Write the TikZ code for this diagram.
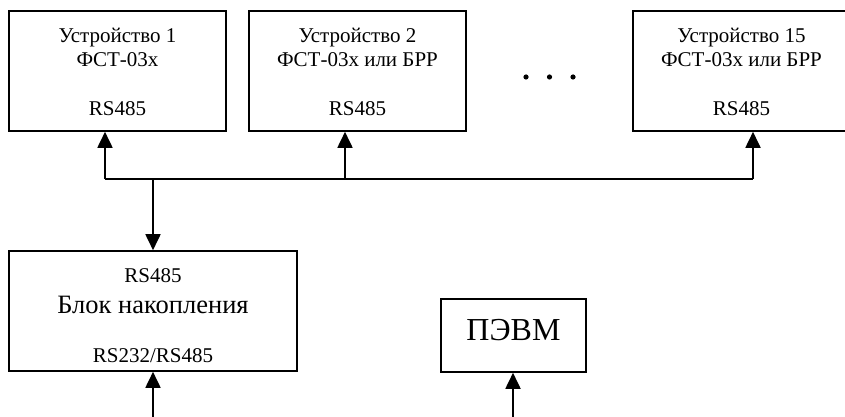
\documentclass[tikz,border=0pt]{standalone}
\usepackage{fontspec}
\setmainfont{Liberation Serif}
\usetikzlibrary{arrows.meta,calc}
\tikzset{
  box/.style={draw, line width=1.6pt, minimum height=120pt, inner sep=0pt},
  devbox/.style={box, minimum width=217pt},
  lbl/.style={anchor=base, inner sep=0pt, font=\fontsize{21}{24}\selectfont},
  biglbl/.style={anchor=base, inner sep=0pt, font=\fontsize{26.5}{30}\selectfont},
  pclbl/.style={anchor=base, inner sep=0pt, font=\fontsize{32}{36}\selectfont},
  conn/.style={line width=1.8pt},
  arr/.style={conn, -{Triangle[length=16pt,width=15pt]}}
}
\begin{document}
\begin{tikzpicture}[x=1pt,y=-1pt]
\useasboundingbox (0,0) rectangle (845,417);
% device boxes
\node[devbox] (b1) at (117.5,71) {};
\node[devbox] (b2) at (357.5,71) {};
\node[devbox] (b3) at (741.5,71) {};
% labels device 1
\node[lbl] (b1l1) at (117.5,43) {Устройство 1};
\node[lbl] (b1l2) at (117.5,67) {ФСТ-03х};
\node[lbl] (b1l3) at (117.5,116) {RS485};
% labels device 2
\node[lbl] (b2l1) at (357.5,43) {Устройство 2};
\node[lbl] (b2l2) at (357.5,67) {ФСТ-03х или БРР};
\node[lbl] (b2l3) at (357.5,116) {RS485};
% labels device 15
\node[lbl] (b3l1) at (741.5,43) {Устройство 15};
\node[lbl] (b3l2) at (741.5,67) {ФСТ-03х или БРР};
\node[lbl] (b3l3) at (741.5,116) {RS485};
% dots
\fill (526,77) circle (2.6pt);
\fill (549.5,77) circle (2.6pt);
\fill (573,77) circle (2.6pt);
% storage block
\node[box, minimum width=288pt] (b4) at (153,311) {};
\node[lbl] (b4l1) at (153,282) {RS485};
\node[biglbl] (b4l2) at (153,313) {Блок накопления};
\node[lbl] (b4l3) at (153,362) {RS232/RS485};
% PC
\node[box, minimum width=145pt, minimum height=73pt] (pc) at (513.5,335.5) {};
\node[pclbl] (pcl) at (513.5,340) {ПЭВМ};
% bus
\coordinate (j1) at (105,179);
\coordinate (j2) at (345,179);
\coordinate (j3) at (753,179);
\coordinate (j4) at (153,179);
\coordinate (e1) at (153,418);
\coordinate (e2) at (513,418);
\draw[conn] (j1) -- (j3);
\draw[arr] (j1) -- (j1 |- b1.south);
\draw[arr] (j2) -- (j2 |- b2.south);
\draw[arr] (j3) -- (j3 |- b3.south);
\draw[arr] (j4) -- (b4.north);
\draw[arr] (e1) -- (b4.south);
\draw[arr] (e2) -- (e2 |- pc.south);
\end{tikzpicture}
\end{document}
